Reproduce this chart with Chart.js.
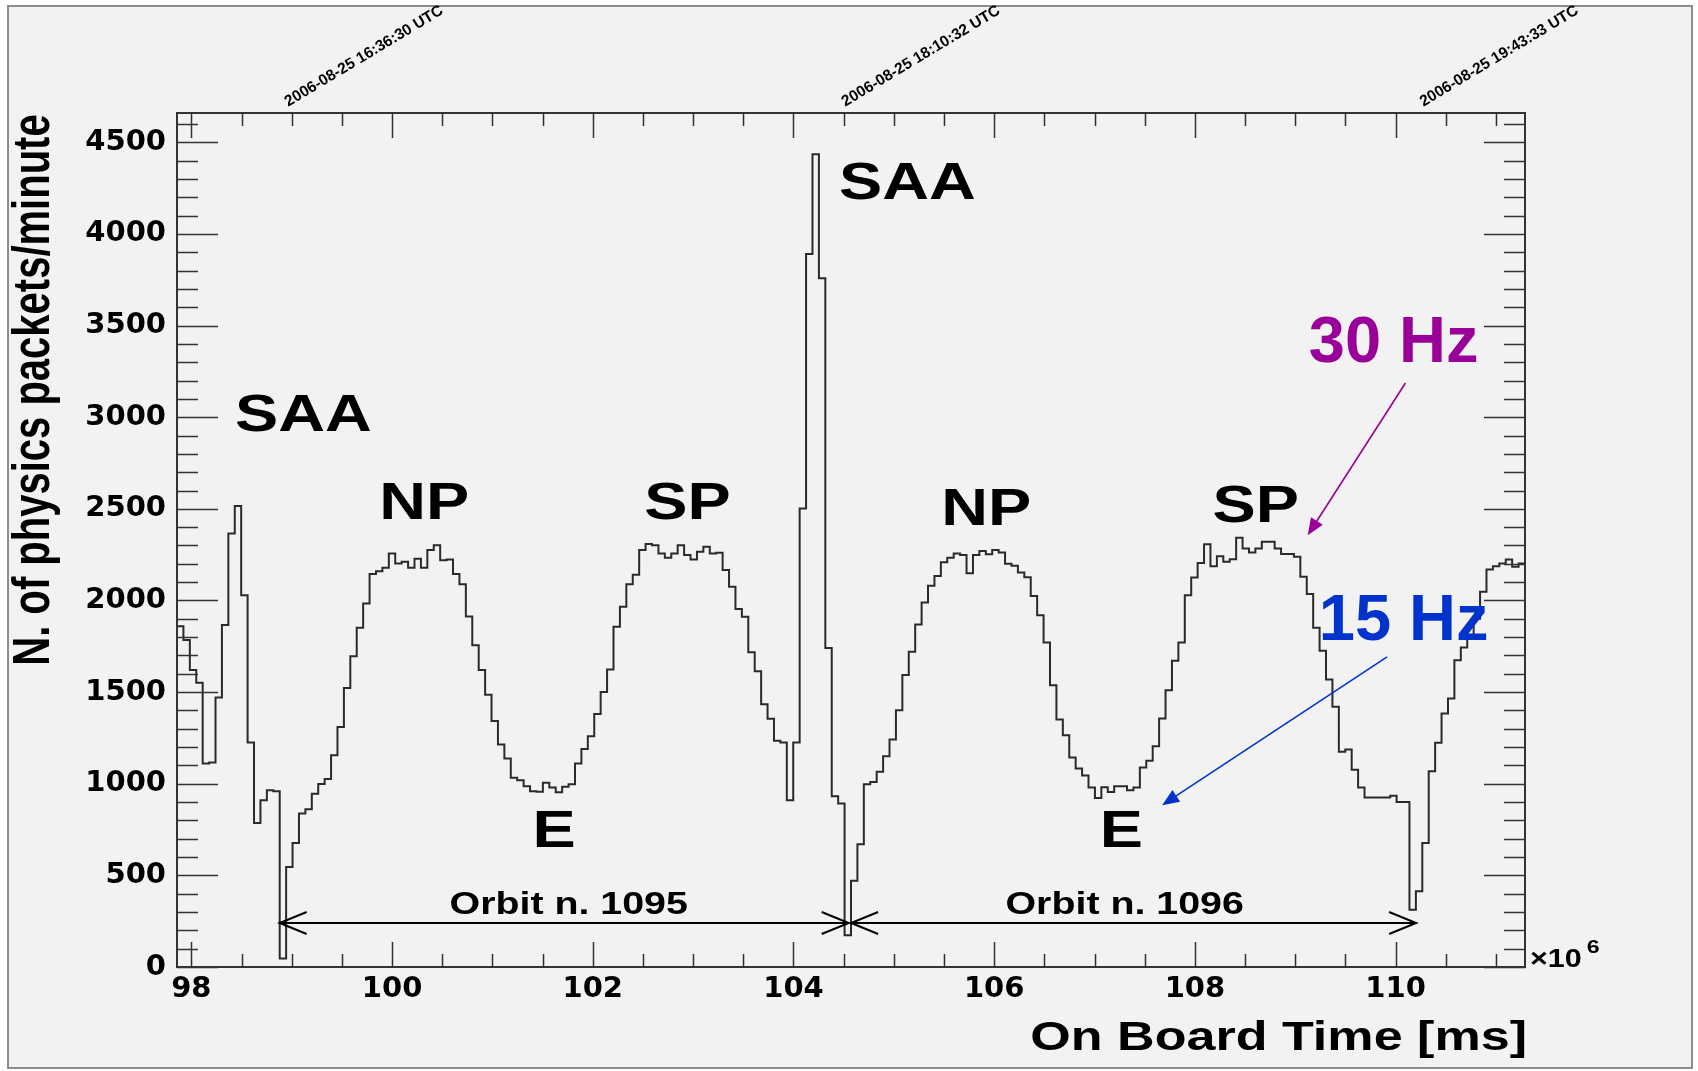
<!DOCTYPE html>
<html><head><meta charset="utf-8">
<script src="https://cdn.jsdelivr.net/npm/chart.js@4.4.1/dist/chart.umd.min.js"></script>
<style>html,body{margin:0;padding:0;background:#fff;}canvas{display:block;}</style>
</head><body>
<canvas id="c" width="1698" height="1071"></canvas>
<script>
// ---------- data ----------
const counts = [
1860,1784,1620,1551,1110,1116,1471,1866,2366,2515,
2029,1225,786,910,965,959,46,546,677,837,
861,946,999,1026,1156,1310,1523,1696,1851,1984,
2144,2160,2179,2257,2202,2211,2179,2228,2179,2275,
2302,2220,2224,2144,2088,1913,1756,1620,1485,1343,
1214,1138,1032,1019,986,959,956,1005,979,954,
983,997,1110,1190,1259,1381,1500,1623,1856,1966,
2089,2140,2275,2308,2302,2257,2233,2257,2302,2248,
2224,2266,2293,2257,2260,2166,2075,1953,1911,1718,
1614,1434,1354,1234,1225,910,1225,2502,3891,4435,
3758,1740,932,892,173,470,670,997,1010,1065,
1150,1241,1401,1593,1720,1869,1989,2080,2133,2209,
2233,2257,2248,2148,2248,2270,2252,2275,2262,2200,
2190,2153,2127,2024,1919,1771,1538,1350,1265,1143,
1083,1045,979,922,981,955,986,986,964,979,
1088,1125,1205,1356,1510,1671,1771,2029,2126,2204,
2307,2187,2242,2211,2225,2342,2284,2262,2284,2320,
2320,2284,2253,2253,2238,2129,2036,1851,1725,1569,
1420,1174,1187,1077,979,925,925,925,925,935,
901,901,313,413,677,1068,1223,1383,1465,1674,
1743,1790,1900,2047,2169,2187,2202,2224,2184,2202];
const binStart = 97.857;        // x10^6 ms
const binWidth = 0.063962;      // x10^6 ms
const xMin = 97.857, xMax = 111.289;
const yMin = 0, yMax = 4660;
const xTickValues = [98,100,102,104,106,108,110];
const yTickValues = [0,500,1000,1500,2000,2500,3000,3500,4000,4500];
const timeLabels = ['2006-08-25 16:36:30 UTC','2006-08-25 18:10:32 UTC','2006-08-25 19:43:33 UTC'];
const timeLabelPos = [99.04, 104.59, 110.35];
const regionLabels = ['SAA','NP','SP','E','SAA','NP','SP','E'];
const regionLabelX = [99.117,100.320,102.943,101.615,105.135,105.921,108.606,107.268];
const regionLabelY = [2926,2442,2442,655,4190,2411,2429,655];
const orbitLabels = ['Orbit n. 1095','Orbit n. 1096'];
const orbitLabelX = [101.76,107.30];
const orbitFrom = [98.880,104.574];
const orbitTo = [104.550,110.204];
const orbitY = 240;
const rateLabels = ['30 Hz','15 Hz'];
const rateColors = ['#990099','#0033cc'];
const rateTextX = [109.134,109.234];
const rateTextY = [3302,1783];
const rateArrowFrom = [[110.098,3187],[109.915,1692]];
const rateArrowTo = [[109.124,2356],[107.673,883]];

// ---------- helpers ----------
const HELV = '"Liberation Sans", Arial, Helvetica, sans-serif';
function sText(ctx, txt, x, y, o) {
  ctx.save();
  ctx.translate(x, y);
  ctx.scale(o.sx || 1, 1);
  if (o.rot) ctx.rotate(o.rot);
  ctx.font = 'bold ' + o.size + 'px ' + (o.family || HELV);
  ctx.fillStyle = o.color || '#000';
  ctx.textAlign = o.align || 'center';
  ctx.textBaseline = 'alphabetic';
  ctx.fillText(txt, 0, 0);
  const w = ctx.measureText(txt).width * (o.sx || 1);
  ctx.restore();
  return w;
}
function arrowFilled(ctx, x1, y1, x2, y2, color) {
  const a = Math.atan2(y2 - y1, x2 - x1), L = 17, W = 7;
  ctx.save();
  ctx.strokeStyle = color; ctx.fillStyle = color; ctx.lineWidth = 1.6;
  ctx.beginPath(); ctx.moveTo(x1, y1);
  ctx.lineTo(x2 - Math.cos(a) * L * 0.8, y2 - Math.sin(a) * L * 0.8); ctx.stroke();
  ctx.beginPath(); ctx.moveTo(x2, y2);
  ctx.lineTo(x2 - Math.cos(a) * L - Math.sin(a) * W, y2 - Math.sin(a) * L + Math.cos(a) * W);
  ctx.lineTo(x2 - Math.cos(a) * L + Math.sin(a) * W, y2 - Math.sin(a) * L - Math.cos(a) * W);
  ctx.closePath(); ctx.fill();
  ctx.restore();
}
function openHead(ctx, x, y, dir) {
  ctx.beginPath();
  ctx.moveTo(x + dir * 27, y - 11); ctx.lineTo(x, y); ctx.lineTo(x + dir * 27, y + 11);
  ctx.stroke();
}

const rootPlugin = {
  id: 'rootStyle',
  beforeDraw(chart) {
    const ctx = chart.ctx;
    ctx.save();
    ctx.fillStyle = '#ffffff'; ctx.fillRect(0, 0, chart.width, chart.height);
    ctx.fillStyle = '#f2f2f2'; ctx.fillRect(8, 6, 1684, 1062);
    ctx.strokeStyle = '#8c8c8c'; ctx.lineWidth = 2; ctx.strokeRect(8, 6, 1684, 1062);
    ctx.restore();
  },
  afterDatasetsDraw(chart) {
    const ctx = chart.ctx, xs = chart.scales.x, ys = chart.scales.y, ca = chart.chartArea;
    ctx.save();
    // ticks inside frame
    ctx.strokeStyle = '#333'; ctx.lineWidth = 1.5;
    ctx.beginPath();
    for (let v = 0; v <= yMax + 1e-6; v += 100) {
      const py = Math.round(ys.getPixelForValue(v)) + 0.5;
      const len = (v % 500 === 0) ? 41 : 21;
      ctx.moveTo(ca.left, py); ctx.lineTo(ca.left + len, py);
      ctx.moveTo(ca.right, py); ctx.lineTo(ca.right - len, py);
    }
    for (let v = Math.ceil(xMin * 2) / 2; v <= xMax; v += 0.5) {
      const px = Math.round(xs.getPixelForValue(v)) + 0.5;
      const len = (Math.abs(v % 2) < 1e-6) ? 25 : 13;
      ctx.moveTo(px, ca.bottom); ctx.lineTo(px, ca.bottom - len);
      ctx.moveTo(px, ca.top); ctx.lineTo(px, ca.top + len);
    }
    ctx.stroke();
    // frame
    ctx.strokeStyle = '#333'; ctx.lineWidth = 2;
    ctx.strokeRect(ca.left, ca.top, ca.right - ca.left, ca.bottom - ca.top);

    // axis titles
    sText(ctx, 'On Board Time [ms]', ca.right + 2, 1050, {size: 41, sx: 1.27, align: 'right'});
    sText(ctx, 'N. of physics packets/minute', 49, 390, {size: 40, sx: 1.28, rot: -Math.PI / 2});
    // x10^6
    const w = sText(ctx, '\u00d710', ca.right + 5, 967, {size: 25, sx: 1.22, align: 'left'});
    sText(ctx, '6', ca.right + 5 + w + 5, 953, {size: 19, sx: 1.22, align: 'left'});

    // region labels
    regionLabels.forEach((t, i) => {
      sText(ctx, t, xs.getPixelForValue(regionLabelX[i]), ys.getPixelForValue(regionLabelY[i]), {size: 51, sx: 1.27});
    });
    // orbit arrows
    ctx.strokeStyle = '#000'; ctx.lineWidth = 2;
    orbitLabels.forEach((t, i) => {
      const x1 = xs.getPixelForValue(orbitFrom[i]), x2 = xs.getPixelForValue(orbitTo[i]);
      const py = ys.getPixelForValue(orbitY);
      ctx.beginPath(); ctx.moveTo(x1, py); ctx.lineTo(x2, py); ctx.stroke();
      openHead(ctx, x1, py, 1); openHead(ctx, x2, py, -1);
      sText(ctx, t, xs.getPixelForValue(orbitLabelX[i]), py - 9, {size: 30.5, sx: 1.29});
    });
    // rate annotations
    rateLabels.forEach((t, i) => {
      sText(ctx, t, xs.getPixelForValue(rateTextX[i]), ys.getPixelForValue(rateTextY[i]), {size: 65, align: 'left', color: rateColors[i]});
      arrowFilled(ctx, xs.getPixelForValue(rateArrowFrom[i][0]), ys.getPixelForValue(rateArrowFrom[i][1]),
        xs.getPixelForValue(rateArrowTo[i][0]), ys.getPixelForValue(rateArrowTo[i][1]), rateColors[i]);
    });
    ctx.restore();
  }
};

const points = counts.map((v, i) => ({x: binStart + i * binWidth, y: v}));
points.push({x: binStart + counts.length * binWidth, y: counts[counts.length - 1]});

const tickFont = {family: '"DejaVu Sans", sans-serif', weight: 'bold', size: 29};

new Chart(document.getElementById('c'), {
  type: 'line',
  data: {datasets: [{
    label: 'physics packets/minute',
    data: points,
    stepped: 'before',
    borderColor: '#2a2a2a',
    borderWidth: 2,
    pointRadius: 0,
    fill: false,
    tension: 0
  }]},
  options: {
    responsive: false,
    animation: false,
    events: [],
    layout: {padding: {left: 0, right: 173, top: 0, bottom: 0}},
    plugins: {legend: {display: false}, tooltip: {enabled: false}},
    scales: {
      x: {
        type: 'linear', position: 'bottom', min: xMin, max: xMax,
        afterBuildTicks: s => { s.ticks = xTickValues.map(v => ({value: v})); },
        afterFit: s => { s.height = 104; },
        grid: {display: false, drawTicks: false},
        border: {display: false},
        ticks: {font: tickFont, color: '#000', padding: 5, maxRotation: 0, autoSkip: false,
                callback: v => String(v)}
      },
      x2: {
        type: 'linear', position: 'top', min: xMin, max: xMax,
        afterBuildTicks: s => { s.ticks = timeLabelPos.map(v => ({value: v})); },
        afterFit: s => { s.height = 113; },
        grid: {display: false, drawTicks: false},
        border: {display: false},
        ticks: {font: {family: HELV, weight: 'bold', size: 15.5}, color: '#000', padding: 2,
                minRotation: 31, maxRotation: 31, autoSkip: false,
                callback: (v, i) => timeLabels[i]}
      },
      y: {
        type: 'linear', position: 'left', min: yMin, max: yMax,
        afterBuildTicks: s => { s.ticks = yTickValues.map(v => ({value: v})); },
        afterFit: s => { s.width = 177; },
        grid: {display: false, drawTicks: false},
        border: {display: false},
        ticks: {font: tickFont, color: '#000', padding: 11, callback: v => String(v)}
      }
    }
  },
  plugins: [rootPlugin]
});
</script>
</body></html>
